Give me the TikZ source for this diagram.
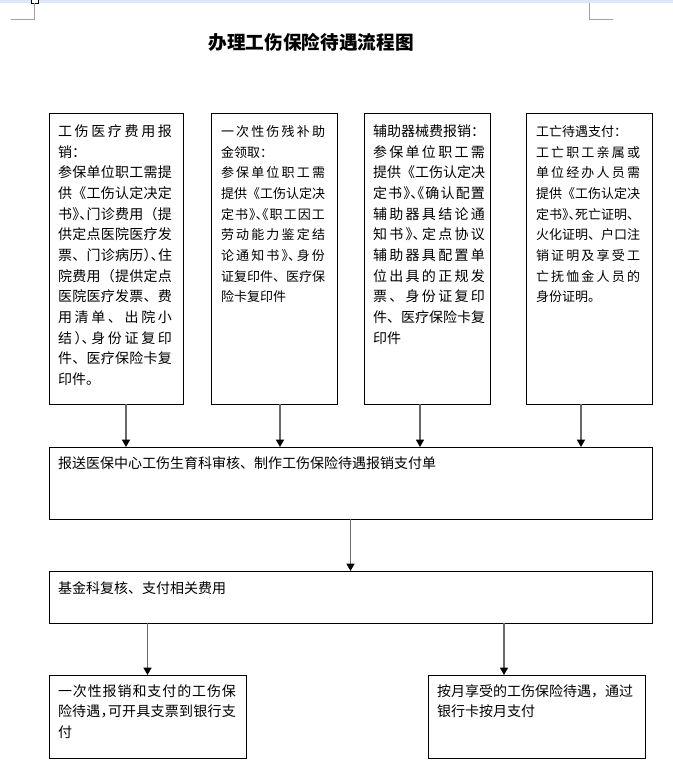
\documentclass[tikz,border=0pt]{standalone}
\usepackage{fontspec}
\setmainfont{Noto Sans CJK SC}
\newfontfamily\hw{Noto Sans CJK SC}[RawFeature=+halt]
\usetikzlibrary{arrows.meta}
\definecolor{lnc}{RGB}{105,105,105}
\definecolor{stripblue}{RGB}{220,230,245}
\definecolor{markgray}{RGB}{160,160,160}
\newskip\jlskip \jlskip=0pt plus 1fil minus 1.5pt
\def\jw{80pt}
\ExplSyntaxOn
\NewDocumentCommand{\jl}{m}{ \leavevmode \hbox_to_wd:nn {\jw} { \tl_map_inline:nn {#1} { {##1} \hskip\jlskip } \unskip } }
\ExplSyntaxOff
\tikzset{
  box/.style={draw=black, line width=0.75pt, anchor=north west, inner sep=0pt, outer sep=0pt, align=left},
  fa/.style={font=\fontsize{10.5pt}{15.5pt}\selectfont},
  fb/.style={font=\fontsize{9.75pt}{15.5pt}\selectfont},
  arr/.style={draw=lnc, line width=1pt, -{Triangle[width=6pt,length=5.5pt,color=black]}},
  titlest/.style={font=\fontsize{14pt}{16pt}\selectfont\bfseries, inner sep=0pt}
}
\begin{document}
\begin{tikzpicture}[x=0.75pt,y=-0.75pt]
\useasboundingbox (0,0) rectangle (673,764);
% page decorations
\fill[stripblue] (0,0) rectangle (673,3);
\draw[black, line width=0.6pt, fill=white] (31,-2) rectangle (38,3);
\draw[markgray, line width=0.75pt] (34,3) -- (34,19) -- (11,19);
\draw[markgray, line width=0.75pt] (589,3) -- (589,19) -- (613,19);
% title
\node[titlest] (title) at (311,42) {办理工伤保险待遇流程图};
% top boxes
\node[box, fa, text width=100.5pt, text height=17.5pt, text depth=200.75pt] (b1) at (49,113) {\leftskip=6.75pt\def\jw{85.5pt}%
\jl{工伤医疗费用报}\\
销：\\
\jl{参保单位职工需提}\\
\jl{供《工伤认定决定}\\
\jl{书{\hw 》、}门诊费用（提}\\
\jl{供定点医院医疗发}\\
\jl{票、门诊病历{\hw ）、}住}\\
\jl{院费用（提供定点}\\
\jl{医院医疗发票、费}\\
\jl{用清单、出院小}\\
\jl{结{\hw ）、}身份证复印}\\
\jl{件、医疗保险卡复}\\
印件。\par};
\node[box, fb, text width=94.5pt, text height=17.5pt, text depth=200.75pt] (b2) at (211,113) {\leftskip=7.5pt\def\jw{78pt}%
\jl{一次性伤残补助}\\
金领取：\\
\jl{参保单位职工需}\\
\jl{提供《工伤认定决}\\
\jl{定书{\hw 》、《}职工因工}\\
\jl{劳动能力鉴定结}\\
\jl{论通知书{\hw 》、}身份}\\
\jl{证复印件、医疗保}\\
险卡复印件\par};
\node[box, fa, text width=94.5pt, text height=17.5pt, text depth=200.75pt] (b3) at (364,113) {\leftskip=6.75pt\def\jw{84pt}%
辅助器械费报销：\\
\jl{参保单位职工需}\\
\jl{提供《工伤认定决}\\
\jl{定书{\hw 》、《}确认配置}\\
\jl{辅助器具结论通}\\
\jl{知书{\hw 》、}定点协议}\\
\jl{辅助器具配置单}\\
\jl{位出具的正规发}\\
\jl{票、身份证复印}\\
\jl{件、医疗保险卡复}\\
印件\par};
\node[box, fb, text width=94.5pt, text height=17.5pt, text depth=200.75pt] (b4) at (526,113) {\leftskip=7.5pt\def\jw{78pt}%
工亡待遇支付：\\
\jl{工亡职工亲属或}\\
\jl{单位经办人员需}\\
\jl{提供《工伤认定决}\\
\jl{定书{\hw 》、}死亡证明、}\\
\jl{火化证明、户口注}\\
\jl{销证明及享受工}\\
\jl{亡抚恤金人员的}\\
身份证明。\par};
% middle boxes
\node[box, fa, text width=452.25pt, text height=16pt, text depth=38pt] (m1) at (49,447) {\leftskip=6.75pt 报送医保中心工伤生育科审核、制作工伤保险待遇报销支付单\par};
\node[box, fa, text width=452.25pt, text height=16.5pt, text depth=22.5pt] (m2) at (49,571) {\leftskip=6.75pt 基金科复核、支付相关费用\par};
% bottom boxes
\node[box, fa, text width=147.75pt, text height=15.75pt, text depth=46.5pt] (lb) at (49,675) {\leftskip=6.75pt\def\jw{133.5pt}%
\jl{一次性报销和支付的工伤保}\\
\jl{险待遇{\hw ，}可开具支票到银行支}\\
付\par};
\node[box, fa, text width=162.75pt, text height=15.75pt, text depth=46.5pt] (rb) at (428,675) {\leftskip=6.75pt\def\jw{147pt}%
\jl{按月享受的工伤保险待遇，通过}\\
银行卡按月支付\par};
% connector x positions
\coordinate (x1) at (126,0);
\coordinate (x2) at (280,0);
\coordinate (x3) at (420,0);
\coordinate (x4) at (581,0);
\coordinate (x5) at (504,0);
% connectors
\draw[arr] (b1.south -| x1) -- (m1.north -| x1);
\draw[arr] (b2.south -| x2) -- (m1.north -| x2);
\draw[arr] (b3.south -| x3) -- (m1.north -| x3);
\draw[arr] (b4.south -| x4) -- (m1.north -| x4);
\draw[arr] (m1.south) -- (m2.north);
\draw[arr] (m2.south -| lb.north) -- (lb.north);
\draw[arr] (m2.south -| x5) -- (rb.north -| x5);
\end{tikzpicture}
\end{document}
